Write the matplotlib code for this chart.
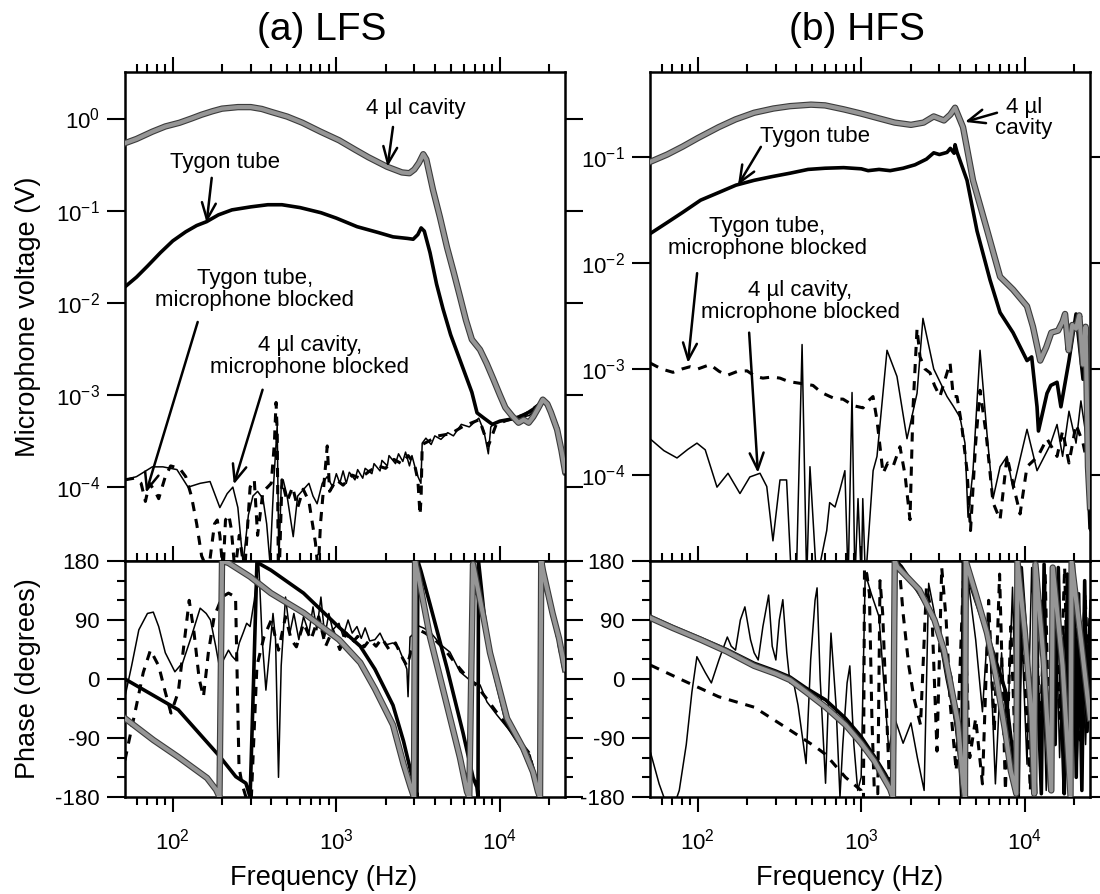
import numpy as np
import matplotlib
matplotlib.use("Agg")
import matplotlib.pyplot as plt
import matplotlib.patheffects as pe
from matplotlib.ticker import LogLocator, NullFormatter, NullLocator, MultipleLocator

plt.rcParams['font.family'] = ['Liberation Sans', 'DejaVu Sans']
plt.rcParams['mathtext.fontset'] = 'custom'
plt.rcParams['mathtext.rm'] = 'Liberation Sans'
plt.rcParams['axes.unicode_minus'] = False

# ---------------- (a) LFS, magnitude ----------------
lfs_cav_f = [51, 60, 75, 90, 110, 130, 150, 175, 200, 250, 300, 350, 400, 500, 620, 800, 1040, 1300, 1570, 2040,
             2520, 2800, 3000, 3200, 3400, 3550, 3900, 4300, 4750, 5200, 5700, 6200, 6740, 7560, 8300, 9100, 10000,
             10800, 11900, 13000, 14000, 15000, 16000, 17000, 18300, 19500, 20500, 22400, 23800, 25000]
lfs_cav_v = [0.54, 0.6, 0.72, 0.82, 0.9, 1.0, 1.1, 1.2, 1.28, 1.33, 1.33, 1.27, 1.18, 1.05, 0.9, 0.72, 0.58, 0.46, 0.38, 0.30,
             0.26, 0.255, 0.28, 0.33, 0.41, 0.36, 0.168, 0.085, 0.04, 0.022, 0.0117, 0.0065, 0.004, 0.0031, 0.0022, 0.0015, 0.001,
             7.3e-4, 5.9e-4, 5.0e-4, 5.4e-4, 5.0e-4, 5.8e-4, 7.0e-4, 8.9e-4, 8.0e-4, 6.5e-4, 4.2e-4, 2.5e-4, 1.5e-4]

lfs_tyg_f = [51, 60, 70, 84, 100, 120, 140, 161, 190, 230, 300, 381, 465, 600, 806, 1000, 1340, 1800, 2220, 2720,
             2950, 3150, 3300, 3450, 3740, 4100, 4490, 5000, 5700, 6740, 7250, 8000, 9000, 10000, 11900, 14000, 16000,
             18300, 20000, 22700, 25000]
lfs_tyg_v = [0.0149, 0.019, 0.025, 0.035, 0.047, 0.059, 0.069, 0.076, 0.09, 0.102, 0.11, 0.116, 0.116, 0.108, 0.095, 0.083,
             0.067, 0.058, 0.052, 0.05, 0.049, 0.055, 0.065, 0.06, 0.035, 0.016, 0.0086, 0.0045, 0.0024, 1.07e-3, 6.4e-4,
             5.6e-4, 4.8e-4, 5.2e-4, 5.5e-4, 6.0e-4, 7.0e-4, 8.5e-4, 7.5e-4, 4.2e-4, 1.4e-4]

# 4 ul cavity, microphone blocked (thin solid)
lfs_cb_f = [51, 60, 75, 87, 106, 124, 147, 169, 194, 215, 233, 250, 269, 290, 309, 330, 356, 375, 393, 415,
            435, 445, 460, 473, 500, 545, 580, 625, 680, 720, 763, 820, 879, 950, 1000, 1050, 1100, 1150, 1200, 1300,
            1350, 1450, 1500, 1650, 1700, 1850, 1900, 2050, 2100, 2300, 2400, 2550, 2650, 2800, 2900, 3100, 3290, 3350,
            3530, 3800, 4000, 4360, 4800, 5200, 5810, 6500, 7430, 8000, 8500, 8800, 9330, 10500, 11900, 13500, 15150,
            16500, 18300, 20000, 22700, 25000]
lfs_cb_v = [1.2e-4, 1.3e-4, 1.66e-4, 1.66e-4, 1.55e-4, 1.0e-4, 1.1e-4, 1.15e-4, 6.0e-5, 8.5e-5,
            1.0e-4, 6e-5, 1.5e-5, 5e-5, 8e-5, 9e-5, 7.5e-5, 4e-5, 1.5e-5, 1.2e-4,
            4.7e-4, 1.5e-5, 1e-4, 1.2e-4, 8e-5, 2.9e-5, 8e-5, 9.3e-5, 1.1e-4, 8e-5,
            6.6e-5, 1.1e-4, 1.3e-4, 1.0e-4, 1.4e-4, 1.1e-4, 1.5e-4, 1.1e-4, 1.45e-4, 1.2e-4,
            1.55e-4, 1.25e-4, 1.6e-4, 1.4e-4, 1.8e-4, 1.5e-4, 1.95e-4, 1.7e-4, 2.2e-4, 1.8e-4,
            2.3e-4, 1.9e-4, 2.4e-4, 1.7e-4, 2.2e-4, 1.4e-4, 1.1e-4, 3.0e-4, 3.4e-4, 2.9e-4,
            3.6e-4, 3.3e-4, 3.9e-4, 3.6e-4, 4.8e-4, 4.5e-4, 5.6e-4, 4.0e-4, 2.3e-4, 4.5e-4,
            5.0e-4, 5.3e-4, 5.5e-4, 5.7e-4, 6.0e-4, 7.0e-4, 8.5e-4, 7.0e-4, 4.2e-4, 1.4e-4]

# Tygon tube, microphone blocked (dashed)
lfs_tb_f = [51, 58, 64, 68, 72, 78, 82, 90, 97, 110, 120, 130, 140, 150, 165, 180, 187, 194, 203, 210,
            220, 228, 240, 255, 275, 297, 315, 330, 356, 380, 400, 418, 428, 435, 442, 448, 465, 500, 540, 580,
            627, 680, 745, 775, 800, 880, 910, 1000, 1100, 1250, 1400, 1600, 1800, 2000, 2250, 2500, 2750, 3000, 3150,
            3250, 3300, 3350, 3600, 4200, 5000, 6000, 7500, 8500, 9500, 11000, 13000, 15000, 18300, 20000, 22700, 25000]
lfs_tb_v = [1.2e-4, 1.25e-4, 1.1e-4, 7e-5, 1.1e-4, 9e-5, 7.5e-5, 1.3e-4, 1.7e-4, 1.6e-4,
            1.3e-4, 8e-5, 4e-5, 1.8e-5, 1.2e-5, 4e-5, 4.4e-5, 3e-5, 1.2e-5, 4.4e-5,
            5e-5, 3.5e-5, 1.2e-5, 3e-5, 1.2e-5, 1e-4, 1.2e-4, 3e-5, 9e-5, 1e-4,
            1.1e-4, 3e-4, 8.3e-4, 4e-4, 1.2e-5, 1.2e-5, 1.2e-4, 7e-5, 1e-4, 6e-5,
            9.5e-5, 7e-5, 2.5e-5, 1.2e-5, 4e-5, 2.8e-4, 9e-5, 1.2e-4, 1.05e-4, 1.35e-4,
            1.25e-4, 1.5e-4, 1.7e-4, 1.6e-4, 2.0e-4, 1.8e-4, 2.2e-4, 1.8e-4, 1.2e-4, 5e-5,
            8e-5, 2.9e-4, 3.1e-4, 3.6e-4, 3.8e-4, 4.6e-4, 5.4e-4, 2.8e-4, 4.8e-4, 5.3e-4,
            5.8e-4, 6.5e-4, 8.5e-4, 7.2e-4, 4.3e-4, 1.4e-4]

# ---------------- (a) LFS, phase ----------------
lfs_cav_pf = [51, 76, 108, 162, 184, 193, 200, 219, 297, 398, 630, 1038, 1400, 1722, 2220, 2576, 2847, 2983, 3030, 3157,
              3739, 4746, 5700, 6295, 6500, 6850, 7300, 8000, 8700, 11060, 13850, 15950, 17100, 17600, 17900, 18350,
              21000, 23000, 25000]
lfs_cav_ph = [-60, -93, -119, -151, -169, -180, 180, 177, 156, 131, 101, 60, 25, -15, -70, -130, -165, -180, 180, 160,
              64, -40, -120, -172, -180, 175, 140, 90, 40, -60, -105, -142, -172, -180, 180, 165,
              100, 62, 15]

lfs_tyg_pf = [51, 108, 195, 243, 280, 297, 312, 327, 398, 630, 1038, 1400, 1722, 2220, 2576, 2847, 3070, 3110, 3150, 3290,
              3740, 4746, 5950, 6850, 7240, 7350, 7400, 8000, 8700, 11060, 13850, 15950, 17100, 17600, 17800, 18350,
              21000, 23000, 25000]
lfs_tyg_ph = [0, -47, -119, -149, -159, -180, 0, 178, 166, 131, 79, 50, 15, -40, -95, -140, -170, -180, 180, 165,
              114, 17, -82, -150, -165, -180, 180, 100, 37, -70, -108, -145, -175, -180, 180, 160,
              95, 60, 15]

lfs_cb_pf = [51, 56, 62, 70, 76, 82, 90, 103, 115, 130, 147, 160, 170, 183, 193, 205, 219, 230, 242, 255,
             269, 283, 297, 315, 335, 352, 371, 390, 410, 425, 443, 460, 489, 520, 550, 590, 630, 680, 720, 760,
             805, 850, 900, 950, 1038, 1100, 1180, 1250, 1337, 1420, 1500, 1600, 1722, 1850, 2000, 2220, 2400, 2576,
             2700, 2745, 2822, 3000, 3110, 3400, 3740, 4360, 4950, 5700, 6565, 7560, 8340, 9600, 12030, 15290, 17100,
             17600, 17700, 19400, 22000, 24300, 25000]
lfs_cb_ph = [-27, 20, 75, 100, 102, 80, 40, 11, 25, 65, 108, 100, 90, 50, 18, 30, 44, 35, 29, 55,
             70, 85, 80, 120, 180, 60, -17, 40, 100, 60, -150, 20, 125, 70, 100, 60, 95, 70, 110, 75,
             125, 65, 100, 75, 85, 65, 90, 70, 80, 62, 78, 58, 60, 70, 52, 55, 48, 29,
             15, -27, 64, 70, 82, 78, 72, 52, 41, 11, -2, -9, -35, -55, -85, -116, -162,
             -180, 180, 139, 80, 26, 10]

lfs_tb_pf = [51, 53.6, 60, 66, 73, 82, 90, 97.5, 108, 118, 126, 135, 145, 154, 165, 179, 200, 219, 242, 254,
             265, 280, 300, 327, 361, 400, 443, 489, 530, 570, 630, 700, 780, 860, 950, 1050, 1150, 1250, 1350, 1480,
             1600, 1750, 1900, 2100, 2300, 2500, 2700, 2850, 3000, 3200, 3500, 4000, 4600, 5300, 6200, 7200, 8300, 9500,
             12000, 15000, 17000, 17600, 17700, 19500, 22000, 25000]
lfs_tb_ph = [-124, -98, -40, 10, 44, 20, -20, -52, -20, 60, 120, 70, 0, -27, 40, 95, 125, 131, 125, -134,
             -160, -180, -200, 20, 64, 90, 44, 95, 60, 49, 85, 60, 95, 50, 75, 45, 70, 55, 65, 49,
             60, 50, 62, 45, 55, 35, 20, 40, 55, 75, 70, 60, 45, 25, 5, -10, -30, -50,
             -82, -112, -160, -180, 180, 135, 75, 5]

# ---------------- (b) HFS, magnitude ----------------
hfs_cav_f = [51.5, 65, 81, 100, 134, 170, 221, 290, 366, 492, 600, 779, 1000, 1282, 1600, 2011, 2400, 2770, 3200, 3500,
             3740, 4185, 4815, 5870, 7050, 8460, 10300, 11200, 12400, 13500, 14500, 15950, 17000, 17600, 18500, 19500,
             20540, 21500, 22670, 23500, 24300, 25000]
hfs_cav_v = [0.09, 0.105, 0.125, 0.15, 0.19, 0.225, 0.26, 0.285, 0.30, 0.31, 0.305, 0.28, 0.255, 0.23, 0.21, 0.2, 0.21,
             0.24, 0.22, 0.25, 0.29, 0.19, 0.06, 0.0204, 0.0074, 0.0056, 0.0039, 0.0025, 0.0012, 0.0016, 0.0022, 0.0023,
             0.0028, 0.0033, 0.0015, 0.0026, 0.0024, 0.0032, 0.0011, 0.0025, 1.2e-4, 5e-5]

hfs_tyg_f = [51.5, 65, 81, 104, 134, 171, 221, 284, 366, 472, 600, 779, 1000, 1100, 1282, 1500, 1800, 2127, 2500, 2770,
             3000, 3340, 3500, 3690, 3740, 3850, 4427, 5095, 6120, 7050, 8460, 10300, 11000, 11860, 12100, 13650, 14400,
             15720, 16600, 18600, 20540, 22670, 23500, 24300, 25000]
hfs_tyg_v = [0.019, 0.024, 0.03, 0.039, 0.046, 0.054, 0.06, 0.065, 0.07, 0.076, 0.078, 0.079, 0.077, 0.074, 0.076, 0.074,
             0.078, 0.084, 0.095, 0.109, 0.105, 0.11, 0.12, 0.108, 0.13, 0.11, 0.06, 0.02, 0.0069, 0.0034, 0.0022, 0.0012,
             0.0013, 4.4e-4, 2.6e-4, 5.9e-4, 7e-4, 7.5e-4, 4.4e-4, 1.2e-3, 3.3e-3, 8e-4, 1.5e-3, 1.0e-4, 3.2e-5]

hfs_tb_f = [51, 60, 70.5, 80, 89.6, 100, 118.7, 135, 151, 175, 200, 225, 250, 285, 318, 360, 404, 455, 506, 570,
            643, 700, 772, 900, 1024, 1100, 1178, 1246, 1357, 1450, 1561, 1722, 1850, 1983, 2068, 2190, 2284, 2450,
            2628, 2800, 3023, 3250, 3485, 3650, 3844, 4100, 4427, 4650, 5000, 5315, 5800, 6385, 7050, 7773, 8500, 9340,
            10300, 12000, 13650, 15720, 17000, 18600, 20540, 22670, 24300, 25000]
hfs_tb_v = [1.14e-3, 1.0e-3, 9.3e-4, 1.0e-3, 1.05e-3, 1.0e-3, 1.1e-3, 9.5e-4, 8.7e-4, 9.5e-4,
            9.6e-4, 8.5e-4, 8.2e-4, 8.4e-4, 8.2e-4, 7.6e-4, 7.4e-4, 7.2e-4, 7.0e-4, 6.0e-4,
            5.5e-4, 5.2e-4, 5.2e-4, 4.5e-4, 4.3e-4, 5.0e-4, 5.5e-4, 3.3e-4, 1.04e-4, 1.3e-4,
            1.2e-4, 1.85e-4, 1.0e-4, 3.8e-5, 4.2e-4, 2.4e-3, 1.3e-3, 1.0e-3, 9.2e-4, 7e-4,
            5.5e-4, 8e-4, 1.14e-3, 5.5e-4, 5.5e-4, 3e-4, 1.1e-4, 3e-5, 2e-4, 6.3e-4,
            2.4e-4, 5.5e-5, 3.8e-5, 1.5e-4, 8e-5, 4.3e-5, 1.2e-4, 1.5e-4, 2.2e-4, 1.5e-4,
            2.6e-4, 1.3e-4, 3.0e-4, 2.0e-4, 1.2e-4, 4e-5]

hfs_cb_f = [51, 62, 74.6, 87, 98.8, 111, 131, 153, 181, 208, 240, 264, 288, 318, 349, 374, 400, 434, 463, 485,
            533, 614, 640, 690, 740, 793, 830, 877, 913, 954, 1000, 1020, 1060, 1180, 1246, 1435, 1651, 1901, 2190, 2380,
            2770, 3340, 3635, 4010, 4300, 4490, 4815, 5315, 5870, 6385, 7050, 7773, 8460, 10300, 11860, 14230, 15720,
            17000, 18600, 20540, 22000, 23500, 24300, 25000]
hfs_cb_v = [2.2e-4, 1.7e-4, 1.45e-4, 1.75e-4, 2.0e-4, 1.73e-4, 7.7e-5, 1.04e-4, 6.7e-5, 9.6e-5,
            1.04e-4, 7.8e-5, 2.4e-5, 9e-5, 9e-5, 1e-5, 1e-5, 1.7e-3, 1e-5, 1.2e-4,
            1e-5, 3e-5, 5.5e-5, 5e-5, 7.3e-5, 1.1e-4, 1e-5, 6e-4, 1e-5, 6e-5,
            1e-5, 6e-5, 1e-5, 1.1e-4, 1.5e-4, 1.5e-3, 8.5e-4, 2.2e-4, 5.9e-4, 3e-3,
            1e-3, 5.5e-4, 4.5e-4, 3.5e-4, 2e-4, 4e-5, 1.1e-4, 1.5e-3, 2.4e-4, 6e-5,
            1.2e-4, 1.5e-4, 7.4e-5, 2.7e-4, 1.1e-4, 1.9e-4, 3e-4, 1.5e-4, 4e-4, 2e-4,
            5e-4, 2.5e-4, 8e-5, 3e-5]

# ---------------- (b) HFS, phase ----------------
hfs_cav_pf = [51.5, 70, 104, 150, 221, 300, 366, 460, 605, 800, 997, 1200, 1357, 1500, 1560, 1600, 1660, 2260, 2800, 3200,
              3900, 4185, 4300, 4350, 5000, 5870, 6700, 7580, 8200, 8860, 9000, 10000, 11000, 11400, 11600, 13000, 14500,
              14800, 17000, 19000, 19300, 22000, 25000]
hfs_cav_ph = [93, 78, 60, 42, 20, 8, -1.5, -20, -43, -70, -98, -125, -149, -168, -180, 180, 171, 136, 90, 44,
              -67, -159, -180, 180, 130, 70, 0, -80, -140, -175, 180, 70, -60, -175, 175, 30, -170,
              170, 20, -178, 178, 60, -60]

hfs_tyg_pf = [51.5, 70, 104, 150, 221, 300, 366, 460, 605, 800, 997, 1200, 1400, 1582, 1620, 1750, 2200, 2770, 3520, 4000,
              4110, 4200, 4350, 5000, 5870, 7580, 8300, 8860, 9100, 9500, 10200, 10800, 11200, 11500, 12000, 12600, 13100,
              13500, 14200, 14800, 15300, 16000, 16800, 17400, 18200, 19000, 19800, 20600, 21300, 22300, 23200, 24000,
              25000]
hfs_tyg_ph = [95, 80, 62, 45, 24, 12, 3, -14, -32, -60, -88, -118, -145, -170, 180, 172, 135, 95, 3, -120,
              -180, 180, 166, 120, 70, -17, -100, -159, -180, 170, 60, -60, -170, 170, -20, -175, 175,
              -40, -170, 165, -100, 170, -60, -175, 160, -120, 175, -150, 130, -170, 150, -80,
              90]

hfs_cb_pf = [51.5, 58, 63, 70, 77, 85, 92, 98.7, 111, 121, 135, 151.5, 160, 170, 182, 194, 210, 221, 234, 250,
             271, 285, 300, 315, 331, 350, 366, 385, 410, 459, 490, 521, 536, 560, 604, 625, 652, 700, 740, 770,
             818, 850, 900, 950, 997, 1056, 1150, 1282, 1470, 1600, 1800, 2010, 2200, 2420, 2580, 2900, 3300, 3700,
             4100, 4500, 5000, 5500, 6000, 6600, 7200, 7800, 8400, 9000, 9600, 10300, 11000, 11800, 12600, 13500,
             14400, 15300, 16300, 17300, 18400, 19600, 20800, 22000, 23500, 25000]
hfs_cb_ph = [-113, -160, -185, -200, -170, -100, -20, 34, 10, -6, 30, 64, 50, 44, 90, 110, 60, 40, 29, 80,
             128, 50, 29, 90, 121, 40, -6, -5, -40, -129, 30, 120, 139, 0, -159, -50, 70, -40, -180, -100,
             -6, 20, -100, -170, -150, 161, 130, 95, -108, -60, -98, -67, -120, -170, 146, 80, 0, -60,
             -130, 150, 60, -50, 100, -160, 40, -90, 140, -150, 60, -130, 170, -20, 120, -170,
             30, 160, -120, 80, -60, 170, -140, 50, -100, 120]

hfs_tb_pf = [51.5, 81, 134, 221, 366, 521, 604, 800, 997, 1030, 1045, 1080, 1120, 1160, 1200, 1260, 1300, 1350, 1420, 1480,
             1550, 1620, 1700, 1800, 1950, 2100, 2300, 2500, 2700, 2900, 3100, 3300, 3500, 3800, 4200, 4600, 5000, 5500,
             6000, 6500, 7000, 7600, 8200, 8800, 9400, 10100, 10800, 11600, 12400, 13300, 14200, 15200, 16300, 17500,
             18800, 20200, 21700, 23300, 25000]
hfs_tb_ph = [21, -2, -27, -43, -78, -103, -115, -150, -170, -185, 170, 160, 130, -60, -170, -175, 150, 100, -40, -150,
             -170, 165, 175, 100, 20, -30, -70, 140, 100, -110, 170, 90, -40, -140, 150, -120, -60, -160,
             120, -80, 160, -170, 80, -130, 170, -20, -170, 140, -100, 160, -150, 120, -60, 170,
             -170, 150, -100, 130, -40]

ytick_lfs = [1, 1e-1, 1e-2, 1e-3, 1e-4]
ytick_lfs_lab = ['0', '-1', '-2', '-3', '-4']
ytick_hfs = [1e-1, 1e-2, 1e-3, 1e-4]
ytick_hfs_lab = ['-1', '-2', '-3', '-4']


def gray(ax, f, y):
    ax.plot(f, y, color='#969696', lw=3.0, zorder=5, solid_joinstyle='round',
            path_effects=[pe.Stroke(linewidth=4.6, foreground='#3c3c3c'), pe.Normal()])


def black(ax, f, y):
    ax.plot(f, y, color='k', lw=2.6, zorder=4, solid_joinstyle='round')


def thin(ax, f, y):
    ax.plot(f, y, color='k', lw=1.1, zorder=3)


def dashed(ax, f, y):
    ax.plot(f, y, color='k', lw=2.2, ls=(0, (3, 2.6)), zorder=3)


def arrow(ax, tail, tip):
    ax.annotate('', xy=tip, xytext=tail,
                arrowprops=dict(arrowstyle='->, head_length=0.6, head_width=0.25', lw=1.8, color='k',
                                mutation_scale=20, shrinkA=0, shrinkB=0), zorder=6)


fig = plt.figure(figsize=(11, 8.94), dpi=100)
xs = [0.1136, 0.5909]
W = 0.4
axm = [fig.add_axes([x, 0.3725, W, 0.547]) for x in xs]
axp = [fig.add_axes([x, 0.1085, W, 0.264]) for x in xs]

for ax in axm + axp:
    ax.set_xscale('log')
    ax.set_xlim(51, 25000)
    ax.xaxis.set_minor_locator(LogLocator(base=10, subs=np.arange(2, 10)))
    ax.xaxis.set_minor_formatter(NullFormatter())
    ax.tick_params(which='both', direction='out', top=True, right=True, width=1.5, labelsize=16)
    ax.tick_params(axis='x', which='major', length=11)
    ax.tick_params(axis='y', which='major', length=13, pad=5)
    ax.tick_params(which='minor', length=5.5)
    for s in ax.spines.values():
        s.set_linewidth(1.8)

for ax in axm:
    ax.set_yscale('log')
    ax.tick_params(labelbottom=False)
    ax.yaxis.set_minor_locator(NullLocator())
    ax.set_xticks([1e2, 1e3, 1e4])

axm[0].set_ylim(1.58e-5, 3.2)
axm[0].set_yticks(ytick_lfs)
axm[0].set_yticklabels([r'$\mathregular{10^{%s}}$' % s for s in ytick_lfs_lab])
axm[1].set_ylim(1.55e-5, 0.63)
axm[1].set_yticks(ytick_hfs)
axm[1].set_yticklabels([r'$\mathregular{10^{%s}}$' % s for s in ytick_hfs_lab])

for ax, xc in zip(axp, [0.452, 0.4545]):
    ax.set_ylim(-180, 180)
    ax.set_yticks([-180, -90, 0, 90, 180])
    ax.set_yticklabels(['-180', '-90', '0', '90', '180'])
    ax.yaxis.set_minor_locator(MultipleLocator(30))
    ax.set_xticks([1e2, 1e3, 1e4])
    ax.set_xticklabels([r'$\mathregular{10^{2}}$', r'$\mathregular{10^{3}}$', r'$\mathregular{10^{4}}$'])
    ax.tick_params(axis='x', which='major', pad=12)
    ax.set_xlabel('Frequency (Hz)', fontsize=19.5)
    ax.xaxis.set_label_coords(xc, -0.29)

axm[0].set_ylabel('Microphone voltage (V)', fontsize=19.5)
axm[0].yaxis.set_label_coords(-0.19, 0.5)
axp[0].set_ylabel('Phase (degrees)', fontsize=19.5)
axp[0].yaxis.set_label_coords(-0.19, 0.5)

# curves
a = axm[0]
thin(a, lfs_cb_f, lfs_cb_v)
dashed(a, lfs_tb_f, lfs_tb_v)
black(a, lfs_tyg_f, lfs_tyg_v)
gray(a, lfs_cav_f, lfs_cav_v)

a = axp[0]
thin(a, lfs_cb_pf, lfs_cb_ph)
dashed(a, lfs_tb_pf, lfs_tb_ph)
black(a, lfs_tyg_pf, lfs_tyg_ph)
gray(a, lfs_cav_pf, lfs_cav_ph)

a = axm[1]
thin(a, hfs_cb_f, hfs_cb_v)
dashed(a, hfs_tb_f, hfs_tb_v)
black(a, hfs_tyg_f, hfs_tyg_v)
gray(a, hfs_cav_f, hfs_cav_v)

a = axp[1]
thin(a, hfs_cb_pf, hfs_cb_ph)
dashed(a, hfs_tb_pf, hfs_tb_ph)
gray(a, hfs_cav_pf, hfs_cav_ph)
black(a, hfs_tyg_pf, hfs_tyg_ph)

# annotations
tk = dict(fontsize=16, ha='center', va='center', linespacing=1.05, zorder=7)
a = axm[0]
a.text(3070, 1.30, '4 µl cavity', **tk)
arrow(a, (2220, 0.81), (2056, 0.30))
a.text(208, 0.33, 'Tygon tube', **tk)
arrow(a, (173, 0.227), (161, 0.074))
a.text(318, 0.0139, 'Tygon tube,\nmicrophone blocked', **tk)
arrow(a, (142, 6.2e-3), (68.6, 8.7e-5))
a.text(689, 2.6e-3, '4 µl cavity,\nmicrophone blocked', **tk)
arrow(a, (354, 1.14e-3), (236, 1.07e-4))

a = axm[1]
a.text(9890, 0.232, '4 µl\ncavity', **tk)
arrow(a, (6750, 0.26), (4300, 0.213))
a.text(521, 0.154, 'Tygon tube', **tk)
arrow(a, (243, 0.124), (176, 0.054))
a.text(265, 0.0172, 'Tygon tube,\nmicrophone blocked', **tk)
arrow(a, (99, 8e-3), (87, 1.14e-3))
a.text(422, 4.3e-3, '4 µl cavity,\nmicrophone blocked', **tk)
arrow(a, (206, 2.2e-3), (233, 1.05e-4))

fig.text(322 / 1100, 1 - 30 / 894, '(a) LFS', fontsize=28, ha='center', va='center')
fig.text(857 / 1100, 1 - 30 / 894, '(b) HFS', fontsize=28, ha='center', va='center')

plt.savefig('out.png', dpi=100)
